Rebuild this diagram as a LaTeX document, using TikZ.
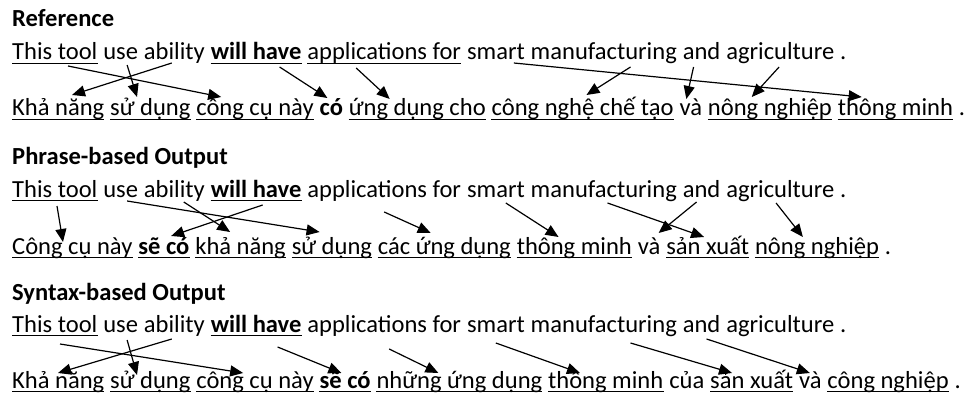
\documentclass[tikz,border=0pt]{standalone}
\usepackage{fontspec}
\setmainfont{Carlito}
\usetikzlibrary{arrows.meta,calc}
\newlength\spw
\newcommand\myfs{\fontsize{24.55}{29}\selectfont}
\newcommand\arr[6]{\draw[al] ([xshift=#2pt,yshift=-#3pt]#1.base west) -- ([xshift=#5pt,yshift=#6pt]#4.base west);}
\newcommand\ul[1]{\draw[ulin] ([yshift=-3.6pt]#1.base west) -- ([yshift=-3.6pt]#1.base east);}
\begin{document}
\setlength{\spw}{5.55pt}%
\begin{tikzpicture}[x=1pt,y=-1pt,
  w/.style={inner sep=0pt, anchor=base west, font=\myfs, text height=17pt, text depth=5pt},
  wb/.style={w, font=\myfs\bfseries},
  ulin/.style={line width=1.1pt},
  al/.style={line width=1.2pt, -{Triangle[length=13pt,width=11pt]}}]
\useasboundingbox (0,0) rectangle (967,401);
% ---------------- Reference
\node[wb] (rT) at (12,27) {Reference};
\node[w]  (rA) at (12,60) {This tool};
\node[w]  (rB) at ([xshift=\spw]rA.base east) {use};
\node[w]  (rC) at ([xshift=\spw]rB.base east) {ability};
\node[wb] (rD) at ([xshift=\spw]rC.base east) {will have};
\node[w]  (rE) at ([xshift=\spw]rD.base east) {applications for};
\node[w]  (rF) at ([xshift=\spw]rE.base east) {smart};
\node[w]  (rG) at ([xshift=\spw]rF.base east) {manufacturing};
\node[w]  (rH) at ([xshift=\spw]rG.base east) {and};
\node[w]  (rI) at ([xshift=\spw]rH.base east) {agriculture};
\node[w]  (rJ) at ([xshift=\spw]rI.base east) {.};
\node[w]  (rV1) at (12,116) {Khả năng};
\node[w]  (rV2) at ([xshift=\spw]rV1.base east) {sử dụng};
\node[w]  (rV3) at ([xshift=\spw]rV2.base east) {công cụ này};
\node[wb] (rV4) at ([xshift=\spw]rV3.base east) {có};
\node[w]  (rV5) at ([xshift=\spw]rV4.base east) {ứng dụng cho};
\node[w]  (rV6) at ([xshift=\spw]rV5.base east) {công nghệ chế tạo};
\node[w]  (rV7) at ([xshift=\spw]rV6.base east) {và};
\node[w]  (rV8) at ([xshift=\spw]rV7.base east) {nông nghiệp};
\node[w]  (rV9) at ([xshift=\spw]rV8.base east) {thông minh};
\node[w]  (rV10) at ([xshift=\spw]rV9.base east) {.};
\ul{rA}\ul{rD}\ul{rE}
\ul{rV1}\ul{rV2}\ul{rV3}\ul{rV5}\ul{rV6}\ul{rV8}\ul{rV9}
\arr{rA}{56}{6}{rV3}{25}{19}
\arr{rC}{28}{3}{rV1}{60}{21}
\arr{rB}{24}{5}{rV2}{27}{19}
\arr{rD}{69}{7}{rV4}{8}{18}
\arr{rE}{49}{8}{rV5}{41}{17}
\arr{rF}{47}{3}{rV9}{24}{19}
\arr{rG}{100}{7}{rV6}{95}{21}
\arr{rH}{11}{7}{rV7}{7}{17}
\arr{rI}{53}{7}{rV8}{44}{19}
% ---------------- Phrase-based
\node[wb] (pT) at (12,165) {Phrase-based Output};
\node[w]  (pA) at (12,197) {This tool};
\node[w]  (pB) at ([xshift=\spw]pA.base east) {use};
\node[w]  (pC) at ([xshift=\spw]pB.base east) {ability};
\node[wb] (pD) at ([xshift=\spw]pC.base east) {will have};
\node[w]  (pE) at ([xshift=\spw]pD.base east) {applications for};
\node[w]  (pF) at ([xshift=\spw]pE.base east) {smart};
\node[w]  (pG) at ([xshift=\spw]pF.base east) {manufacturing};
\node[w]  (pH) at ([xshift=\spw]pG.base east) {and};
\node[w]  (pI) at ([xshift=\spw]pH.base east) {agriculture};
\node[w]  (pJ) at ([xshift=\spw]pI.base east) {.};
\node[w]  (pV1) at (12,254) {Công cụ này};
\node[wb] (pV2) at ([xshift=\spw]pV1.base east) {sẽ có};
\node[w]  (pV3) at ([xshift=\spw]pV2.base east) {khả năng};
\node[w]  (pV4) at ([xshift=\spw]pV3.base east) {sử dụng};
\node[w]  (pV5) at ([xshift=\spw]pV4.base east) {các ứng dụng};
\node[w]  (pV6) at ([xshift=\spw]pV5.base east) {thông minh};
\node[w]  (pV7) at ([xshift=\spw]pV6.base east) {và};
\node[w]  (pV8) at ([xshift=\spw]pV7.base east) {sản xuất};
\node[w]  (pV9) at ([xshift=\spw]pV8.base east) {nông nghiệp};
\node[w]  (pV10) at ([xshift=\spw]pV9.base east) {.};
\ul{pA}\ul{pD}
\ul{pV1}\ul{pV2}\ul{pV3}\ul{pV4}\ul{pV5}\ul{pV6}\ul{pV8}\ul{pV9}
\arr{pA}{45}{9}{pV1}{51}{12}
\arr{pB}{24}{4}{pV4}{28}{22}
\arr{pC}{40}{5}{pV3}{35}{22}
\arr{pD}{52}{8}{pV2}{33}{18}
\arr{pE}{77}{15}{pV5}{53}{21}
\arr{pF}{39}{6}{pV6}{42}{17}
\arr{pG}{77}{6}{pV8}{38}{17}
\arr{pH}{14}{5}{pV7}{21}{21}
\arr{pI}{50}{6}{pV9}{48}{17}
% ---------------- Syntax-based
\node[wb] (sT) at (12,300) {Syntax-based Output};
\node[w]  (sA) at (12,332) {This tool};
\node[w]  (sB) at ([xshift=\spw]sA.base east) {use};
\node[w]  (sC) at ([xshift=\spw]sB.base east) {ability};
\node[wb] (sD) at ([xshift=\spw]sC.base east) {will have};
\node[w]  (sE) at ([xshift=\spw]sD.base east) {applications for};
\node[w]  (sF) at ([xshift=\spw]sE.base east) {smart};
\node[w]  (sG) at ([xshift=\spw]sF.base east) {manufacturing};
\node[w]  (sH) at ([xshift=\spw]sG.base east) {and};
\node[w]  (sI) at ([xshift=\spw]sH.base east) {agriculture};
\node[w]  (sJ) at ([xshift=\spw]sI.base east) {.};
\node[w]  (sV1) at (12,388) {Khả năng};
\node[w]  (sV2) at ([xshift=\spw]sV1.base east) {sử dụng};
\node[w]  (sV3) at ([xshift=\spw]sV2.base east) {công cụ này};
\node[wb] (sV4) at ([xshift=\spw]sV3.base east) {sẽ có};
\node[w]  (sV5) at ([xshift=\spw]sV4.base east) {những ứng dụng};
\node[w]  (sV6) at ([xshift=\spw]sV5.base east) {thông minh};
\node[w]  (sV7) at ([xshift=\spw]sV6.base east) {của};
\node[w]  (sV8) at ([xshift=\spw]sV7.base east) {sản xuất};
\node[w]  (sV9) at ([xshift=\spw]sV8.base east) {và};
\node[w]  (sV10) at ([xshift=\spw]sV9.base east) {công nghiệp};
\node[w]  (sV11) at ([xshift=\spw]sV10.base east) {.};
\ul{sA}\ul{sD}
\ul{sV1}\ul{sV2}\ul{sV3}\ul{sV4}\ul{sV5}\ul{sV6}\ul{sV8}\ul{sV10}
\arr{sA}{48}{12}{sV3}{47}{15}
\arr{sC}{28}{7}{sV1}{46}{15}
\arr{sB}{24}{8}{sV2}{27}{13}
\arr{sD}{67}{15}{sV4}{22}{15}
\arr{sE}{82}{17}{sV5}{62}{15}
\arr{sF}{29}{11}{sV6}{32}{15}
\arr{sG}{100}{11}{sV8}{22}{15}
\arr{sH}{24}{7}{sV9}{11}{15}
\end{tikzpicture}
\end{document}
